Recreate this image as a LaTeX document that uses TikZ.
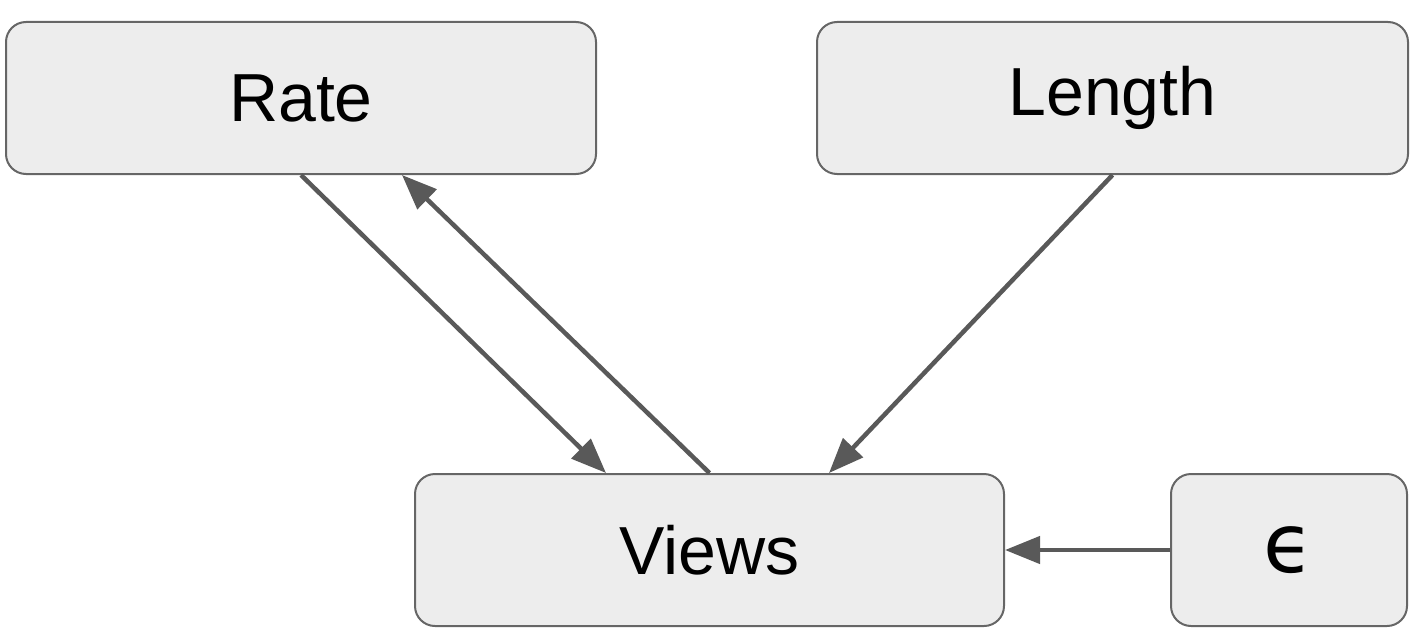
\documentclass[tikz,border=0pt]{standalone}
\usepackage{fontspec}
\setmainfont{Liberation Sans}
\newfontfamily\epsfont{DejaVu Sans}
\usetikzlibrary{arrows.meta,calc}
\tikzset{
  box/.style={draw=black!60, line width=2pt, fill=black!7, rounded corners=20pt,
    inner sep=0pt, font=\fontsize{68}{76}\selectfont},
  conn/.style={draw=black!65, line width=4.5pt, -{Triangle[length=35pt,width=27pt]}}
}
\begin{document}
\begin{tikzpicture}[x=1pt,y=-1pt]
\useasboundingbox (0,0) rectangle (1418,642);
\node[box, minimum width=590pt, minimum height=152pt] (rate) at (301,98) {Rate};
\node[box, minimum width=591pt, minimum height=152pt] (length) at (1112.5,98) {Length};
\node[box, minimum width=589pt, minimum height=152pt] (views) at (709.5,550) {Views};
\node[box, minimum width=236pt, minimum height=152pt] (eps) at (1289,550) {\epsfont\fontsize{82}{90}\selectfont\raisebox{-7pt}{ϵ}};
\draw[conn] (rate.south) -- ($(views.north west)+(192,0)$);
\draw[conn] (views.north) -- ($(rate.south west)+(397,0)$);
\draw[conn] (length.south) -- ($(views.north west)+(415,0)$);
\draw[conn] (eps.west) -- (views.east);
\end{tikzpicture}
\end{document}
